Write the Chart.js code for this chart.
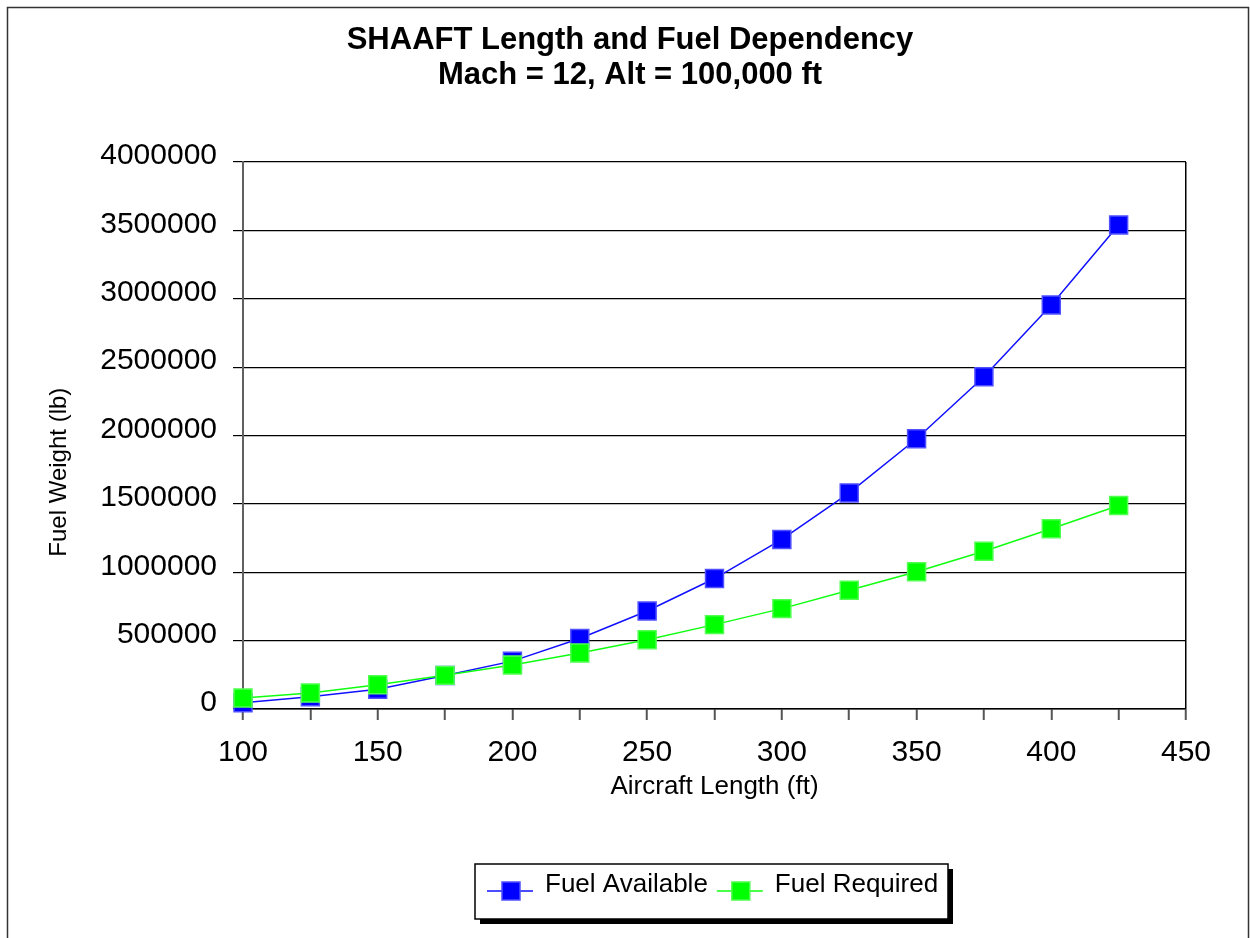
<!DOCTYPE html>
<html>
<head>
<meta charset="utf-8">
<script src="https://cdn.jsdelivr.net/npm/chart.js@4.4.0/dist/chart.umd.min.js"></script>
<style>
body { margin: 0; background: #fff; }
#wrap { width: 1250px; height: 938px; }
</style>
</head>
<body>
<div id="wrap"><canvas id="grafico"></canvas></div>
<script>
// valores
const comprimentos = [100, 125, 150, 175, 200, 225, 250, 275, 300, 325, 350, 375, 400, 425];
const fuelAvailable = [45000, 90000, 145000, 245000, 350000, 516000, 717000, 954000, 1240000, 1580000, 1976000, 2430000, 2955000, 3540000];
const fuelRequired = [80000, 117000, 178000, 246000, 322000, 410000, 507000, 617000, 734000, 868000, 1003000, 1154000, 1318000, 1488000];
const tituloLinhas = ['SHAAFT Length and Fuel Dependency', 'Mach = 12, Alt = 100,000 ft'];
const fonte = '"Liberation Sans", Arial, sans-serif';

function pontos(valores) {
    return comprimentos.map((c, i) => ({ x: c, y: valores[i] }));
}

// moldura externa
const moldura = {
    id: 'moldura',
    beforeDraw(chart) {
        const ctx = chart.ctx;
        ctx.save();
        ctx.fillStyle = '#fff';
        ctx.fillRect(0, 0, chart.width, chart.height);
        ctx.strokeStyle = '#333';
        ctx.lineWidth = 1.5;
        ctx.strokeRect(7.5, 7.5, 1241, 960);
        ctx.restore();
    }
};

// legenda com caixa e sombra, desenhada a partir dos datasets
const legendaCaixa = {
    id: 'legendaCaixa',
    afterDraw(chart) {
        const ctx = chart.ctx;
        const x = 475, y = 864, w = 473, h = 55;
        const meio = y + 27;
        ctx.save();
        ctx.fillStyle = '#000';
        ctx.fillRect(x + 5, y + 5, w, h);
        ctx.fillStyle = '#fff';
        ctx.fillRect(x, y, w, h);
        ctx.strokeStyle = '#000';
        ctx.lineWidth = 1.5;
        ctx.strokeRect(x, y, w, h);
        ctx.font = '26px ' + fonte;
        ctx.textBaseline = 'middle';
        let px = x + 12;
        chart.data.datasets.forEach(ds => {
            ctx.strokeStyle = ds.borderColor;
            ctx.lineWidth = 1.5;
            ctx.beginPath();
            ctx.moveTo(px, meio);
            ctx.lineTo(px + 46, meio);
            ctx.stroke();
            ctx.fillStyle = ds.pointBackgroundColor;
            ctx.fillRect(px + 15, meio - 9, 18, 18);
            ctx.strokeStyle = ds.pointBorderColor;
            ctx.strokeRect(px + 15, meio - 9, 18, 18);
            ctx.fillStyle = '#000';
            ctx.fillText(ds.label, px + 58, meio - 6);
            px += 58 + ctx.measureText(ds.label).width + 9;
        });
        ctx.restore();
    }
};

const context = document.getElementById('grafico').getContext('2d');
const chartInstance = new Chart(context, {
    type: 'line',
    data: {
        datasets: [
            {
                label: 'Fuel Available',
                data: pontos(fuelAvailable),
                borderColor: '#1010ff',
                borderWidth: 1.5,
                pointStyle: 'rect',
                pointRadius: 12.7,
                pointHoverRadius: 12.7,
                pointBackgroundColor: '#0000ff',
                pointBorderColor: '#5050ff',
                pointBorderWidth: 1.5,
                order: 1,
                clip: false,
                fill: false,
            },
            {
                label: 'Fuel Required',
                data: pontos(fuelRequired),
                borderColor: '#10ff10',
                borderWidth: 1.5,
                pointStyle: 'rect',
                pointRadius: 12.7,
                pointHoverRadius: 12.7,
                pointBackgroundColor: '#00ff00',
                pointBorderColor: '#50ff50',
                pointBorderWidth: 1.5,
                order: 0,
                clip: false,
                fill: false,
            },
        ],
    },
    options: {
        responsive: true,
        maintainAspectRatio: false,
        animation: false,
        layout: { padding: { left: 10, right: 0, top: 8, bottom: 119 } },
        plugins: {
            legend: { display: false },
            tooltip: { enabled: false },
            title: {
                display: true,
                text: tituloLinhas,
                color: '#000',
                font: { family: fonte, size: 31, weight: 'bold', lineHeight: 35 / 31 },
                padding: { top: 15, bottom: 69 },
            },
        },
        scales: {
            x: {
                type: 'linear',
                min: 100,
                max: 450,
                afterFit(scale) { scale.height = 110; },
                border: { color: '#000', width: 1.5 },
                grid: {
                    drawOnChartArea: true,
                    color: c => (c.tick && c.tick.value === 450 ? '#000' : 'rgba(0,0,0,0)'),
                    tickColor: '#555',
                    tickLength: 11,
                    lineWidth: 1.5,
                    tickWidth: 2,
                },
                ticks: {
                    stepSize: 25,
                    autoSkip: false,
                    maxRotation: 0,
                    padding: 15,
                    color: '#000',
                    font: { family: fonte, size: 30 },
                    callback: v => (v % 50 === 0 ? String(v) : ''),
                },
                title: {
                    display: true,
                    text: 'Aircraft Length (ft)',
                    color: '#000',
                    font: { family: fonte, size: 26 },
                    padding: { top: 0, bottom: 17 },
                },
            },
            y: {
                min: 0,
                max: 4000000,
                afterFit(scale) { scale.width = 233; },
                border: { color: '#606060', width: 2 },
                grid: {
                    color: '#000',
                    lineWidth: 1.2,
                    tickLength: 10,
                    tickColor: '#000',
                },
                ticks: {
                    stepSize: 500000,
                    padding: 16,
                    labelOffset: -6,
                    color: '#000',
                    font: { family: fonte, size: 30 },
                    callback: v => String(v),
                },
                title: {
                    display: true,
                    text: 'Fuel Weight (lb)' + '           ',
                    color: '#000',
                    font: { family: fonte, size: 24 },
                    padding: { top: 35, bottom: 0 },
                },
            },
            // eixo vazio a direita so para reservar espaco (area do grafico termina em 450)
            direita: {
                position: 'right',
                afterFit(scale) { scale.width = 64; },
                grid: { display: false },
                border: { display: false },
                ticks: { display: false },
            },
        },
    },
    plugins: [moldura, legendaCaixa],
});
</script>
</body>
</html>
